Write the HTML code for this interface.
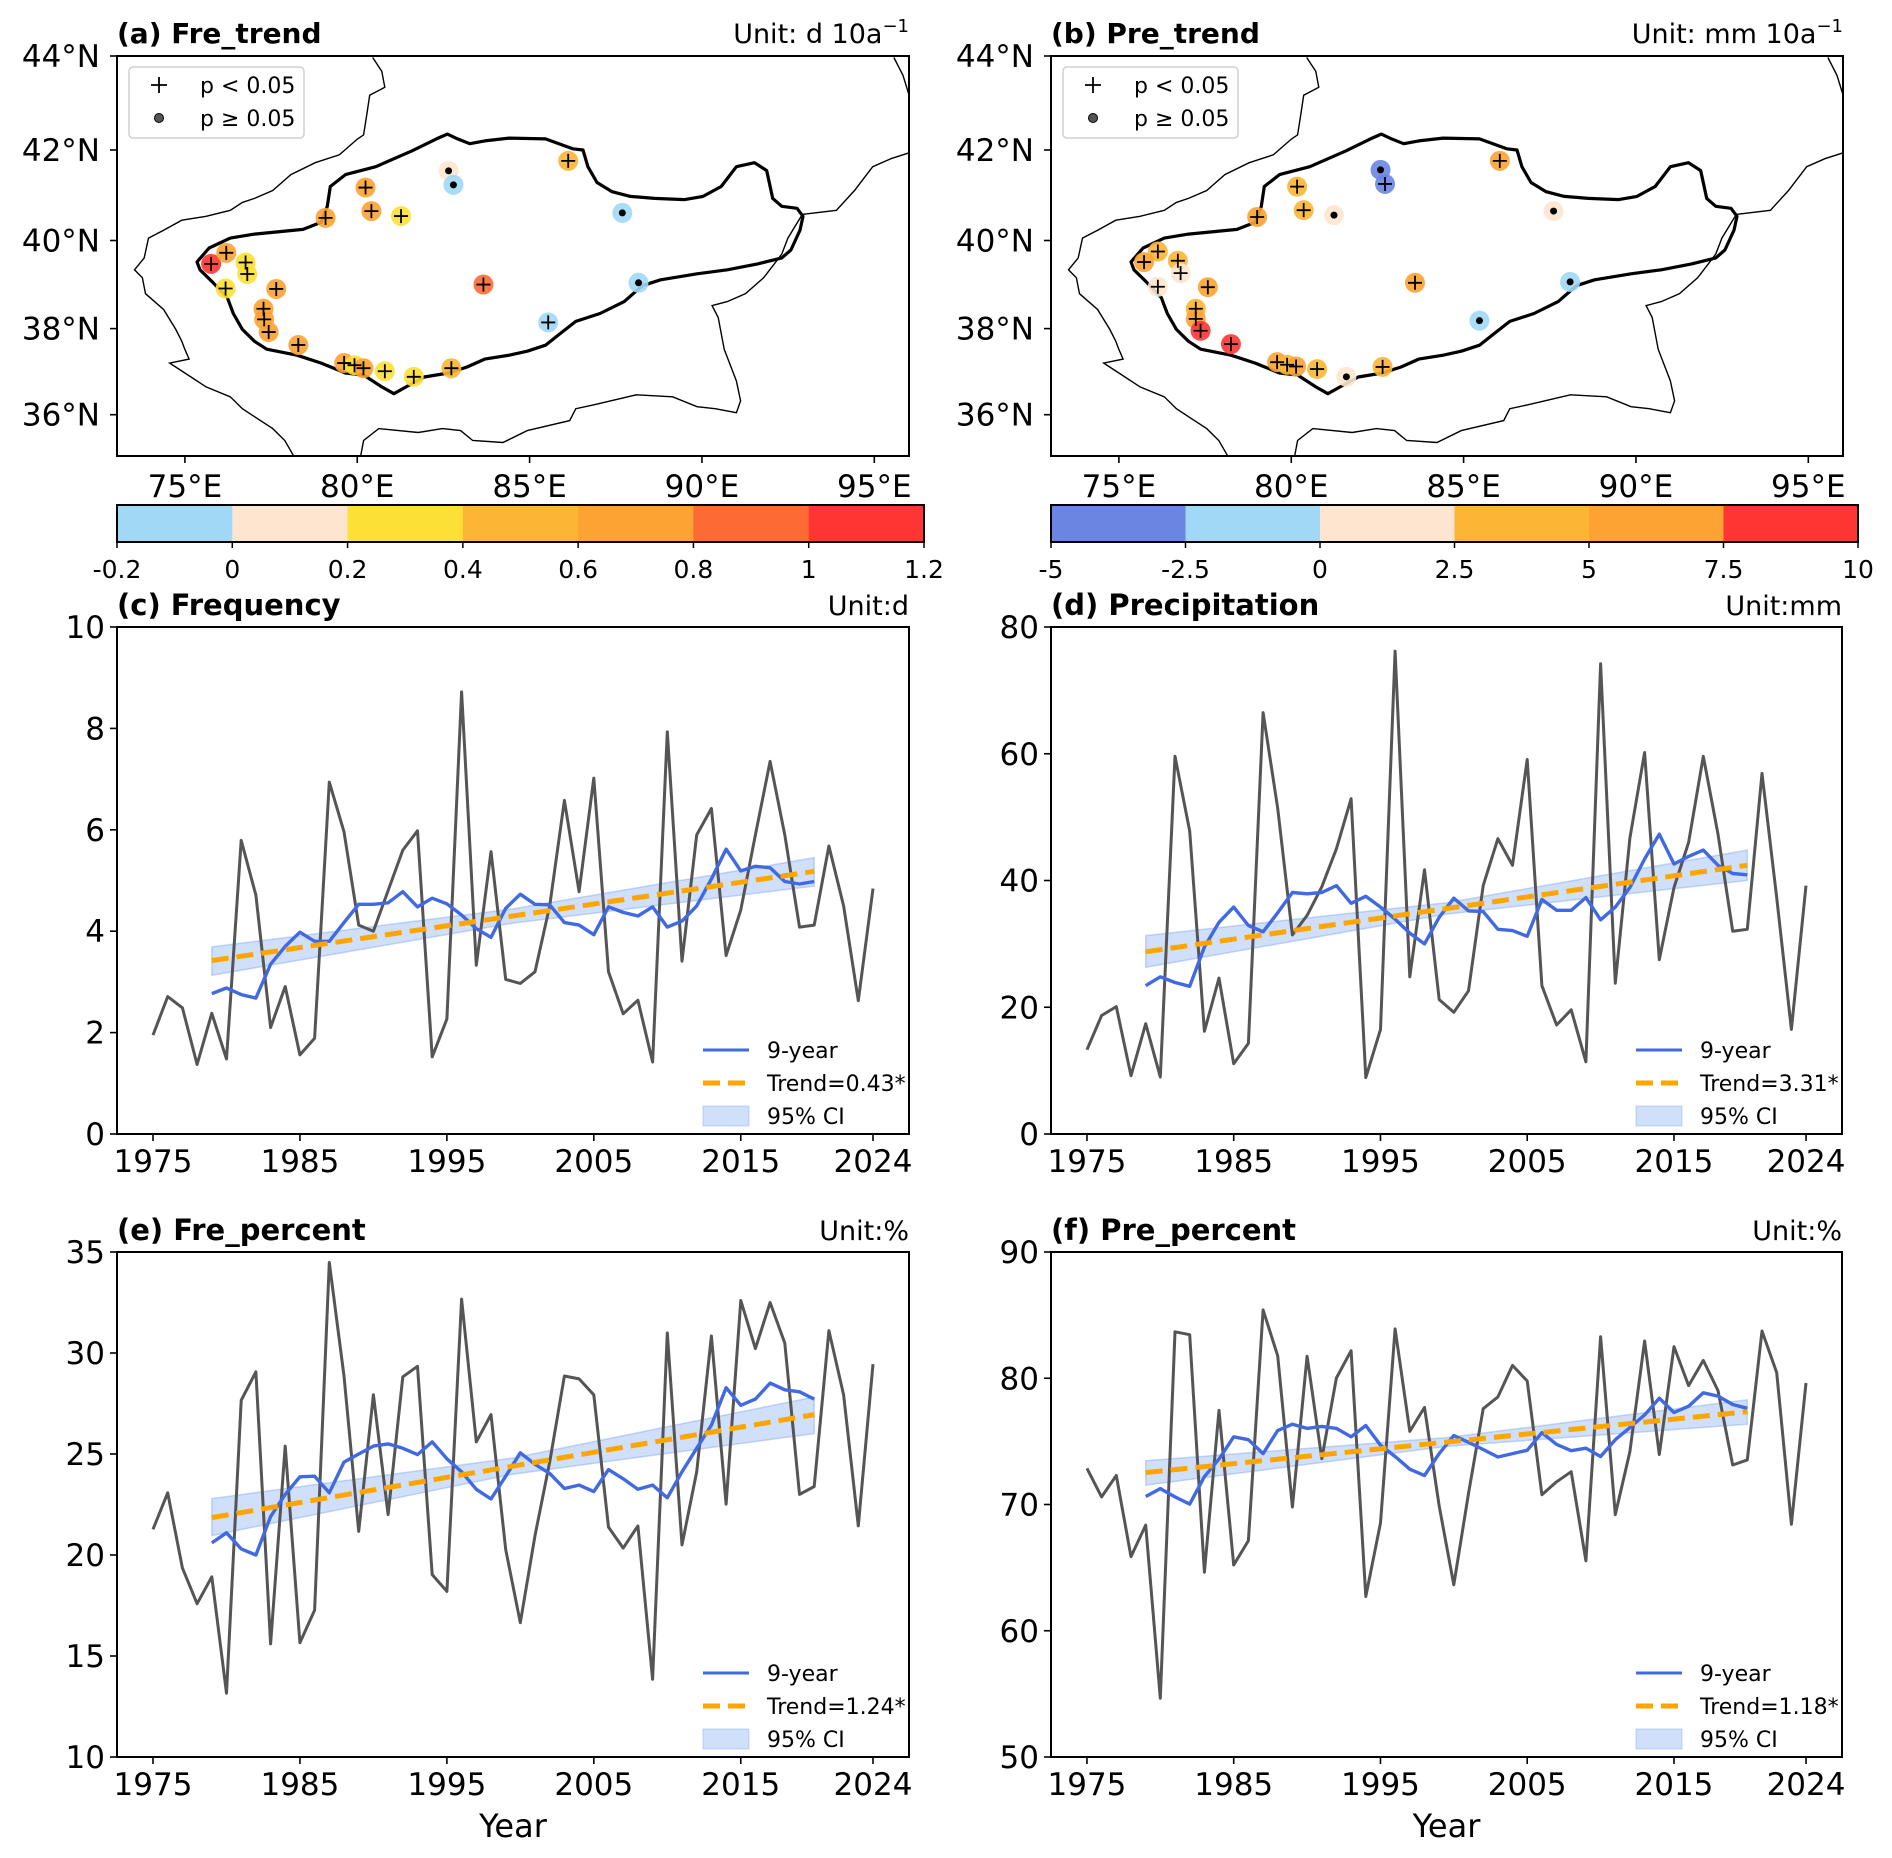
<!DOCTYPE html>
<html><head><meta charset="utf-8">
<style>
html,body{margin:0;padding:0;background:#fff;}
svg{display:block;font-family:"DejaVu Sans","Liberation Sans",sans-serif;}
</style></head>
<body>
<svg id="fig" width="1892" height="1858" viewBox="0 0 1892 1858" xmlns="http://www.w3.org/2000/svg"></svg>
<script>
// ---------------- DATA ----------------
const years = [];
for (let y = 1975; y <= 2024; y++) years.push(y);
const smoothYears = [];
for (let y = 1979; y <= 2020; y++) smoothYears.push(y);
const xTicks = [1975, 1985, 1995, 2005, 2015, 2024];

const freqVals = [1.95,2.71,2.49,1.37,2.38,1.48,5.79,4.71,2.10,2.91,1.56,1.89,6.94,5.96,4.12,4.0,4.8,5.6,5.98,1.52,2.27,8.72,3.33,5.57,3.05,2.97,3.2,4.5,6.58,4.78,7.02,3.2,2.37,2.64,1.42,7.93,3.41,5.9,6.42,3.52,4.42,5.9,7.35,5.9,4.08,4.12,5.68,4.5,2.63,4.84];
const freqSmooth = [2.77,2.88,2.75,2.68,3.35,3.7,3.98,3.8,3.8,4.17,4.53,4.53,4.56,4.78,4.48,4.65,4.54,4.32,4.05,3.88,4.45,4.73,4.53,4.52,4.17,4.12,3.93,4.48,4.37,4.3,4.48,4.08,4.2,4.5,5.03,5.62,5.19,5.28,5.25,4.98,4.93,4.98];
const freqTrend = [3.42, 5.18];
const freqCiLow = [3.13, 4.16, 4.89];
const freqCiHigh = [3.69, 4.44, 5.45];

const precVals = [13.3,18.7,20.1,9.2,17.4,9.0,59.6,47.8,16.2,24.6,11.1,14.3,66.5,51.4,31.4,34.5,39,45,52.9,8.9,16.5,76.2,24.8,41.7,21.2,19.2,22.6,39.2,46.6,42.4,59.1,23.4,17.2,19.6,11.4,74.2,23.8,46.7,60.2,27.5,38.9,46,59.6,47.3,32,32.3,56.9,37.3,16.5,39.2];
const precSmooth = [23.4,24.8,23.9,23.3,29.5,33.4,35.8,32.9,31.9,34.9,38.1,37.9,38.1,39.2,36.4,37.5,35.8,33.9,31.7,30,34.2,37.2,35.2,35.1,32.3,32.1,31.2,37,35.3,35.3,37.3,33.8,35.8,38.9,43.4,47.3,42.6,43.8,44.8,42.4,41.1,40.9];
const precTrend = [28.75, 42.4];
const precCiLow = [26.3, 34.7, 40.0];
const precCiHigh = [31.3, 36.5, 44.8];

const frePctVals = [21.27,23.08,19.36,17.59,18.92,13.16,27.66,29.07,15.6,25.39,15.66,17.26,34.48,28.86,21.17,27.93,22.0,28.82,29.34,19.03,18.2,32.67,25.6,26.95,20.27,16.65,20.96,24.6,28.86,28.72,27.93,21.38,20.34,21.44,13.85,30.99,20.5,24.12,30.84,22.52,32.6,30.22,32.5,30.49,23.0,23.39,31.11,27.93,21.44,29.45];
const frePctSmooth = [20.6,21.1,20.3,20.0,21.9,23.0,23.87,23.9,23.08,24.6,25.0,25.39,25.5,25.28,24.97,25.6,24.76,24.12,23.25,22.77,23.9,25.06,24.49,24.04,23.29,23.46,23.14,24.23,23.77,23.25,23.46,22.83,24.12,25.28,26.43,28.28,27.41,27.72,28.51,28.18,28.08,27.72];
const frePctTrend = [21.85, 26.95];
const frePctCiLow = [20.96, 24.0, 26.01];
const frePctCiHigh = [22.79, 24.8, 27.82];

const prePctVals = [72.86,70.6,72.3,65.87,68.37,54.66,83.68,83.45,64.64,77.45,65.21,67.14,85.41,81.78,69.8,81.75,73.63,80.02,82.18,62.71,68.54,83.91,75.79,77.69,69.87,63.64,70.87,77.59,78.52,81.02,79.78,70.77,71.8,72.6,65.54,83.28,69.2,74.19,82.95,73.96,82.51,79.42,81.41,79.02,73.13,73.53,83.74,80.45,68.44,79.62];
const prePctSmooth = [70.63,71.26,70.6,70.03,72.2,73.6,75.36,75.13,74.03,75.86,76.36,76.03,76.19,76.03,75.36,76.26,74.7,73.8,72.8,72.3,74.03,75.46,74.93,74.36,73.76,74.03,74.29,75.69,74.76,74.26,74.46,73.8,75.13,76.09,77.09,78.42,77.29,77.79,78.85,78.59,77.92,77.62];
const prePctTrend = [72.53, 77.35];
const prePctCiLow = [71.53, 74.6, 76.36];
const prePctCiHigh = [73.46, 75.3, 78.29];

// stations map (a)
const staALon = [75.76,76.2,76.76,76.81,76.18,77.65,77.28,77.3,77.43,78.29,79.08,80.24,80.41,81.27,82.65,82.79,86.12,87.69,88.16,83.66,85.54,79.62,79.92,80.18,80.8,81.64,82.73];
const staALat = [39.47,39.72,39.5,39.24,38.91,38.9,38.45,38.21,37.92,37.62,40.5,41.17,40.65,40.54,41.54,41.23,41.76,40.61,39.04,39.0,38.14,37.2,37.15,37.08,37.01,36.88,37.08];
const staAVal = [1.1,0.7,0.3,0.3,0.3,0.7,0.7,0.7,0.7,0.7,0.7,0.7,0.7,0.3,0.1,-0.1,0.5,-0.1,-0.1,0.9,-0.1,0.7,0.3,0.7,0.3,0.3,0.5];
const staASig = [1,1,1,1,1,1,1,1,1,1,1,1,1,1,0,0,1,0,0,1,1,1,1,1,1,1,1];
const levelsA = [-0.2,0,0.2,0.4,0.6,0.8,1,1.2];
const colorsA = ["#a0d8f6","#fde5cf","#fde035","#fcb534","#fca333","#fd6a33","#fe3533"];

// stations map (b)
const staBLon = [82.59,82.72,86.05,80.17,80.36,81.24,79.01,87.61,76.13,75.73,76.71,76.79,76.13,77.58,83.59,88.09,85.46,77.23,77.23,77.37,78.25,79.59,79.88,80.14,80.75,81.6,82.65];
const staBLat = [41.56,41.25,41.76,41.19,40.67,40.56,40.52,40.65,39.75,39.51,39.54,39.26,38.95,38.94,39.04,39.06,38.18,38.45,38.22,37.95,37.64,37.22,37.16,37.12,37.06,36.88,37.11];
const staBVal = [-3.75,-3.75,6.25,3.75,3.75,1.25,6.25,1.25,3.75,6.25,3.75,1.25,1.25,6.25,6.25,-1.25,-1.25,3.75,6.25,8.75,8.75,6.25,3.75,6.25,3.75,1.25,3.75];
const staBSig = [0,1,1,1,1,0,1,0,1,1,1,1,1,1,1,0,0,1,1,1,1,1,1,1,1,0,1];
const levelsB = [-5,-2.5,0,2.5,5,7.5,10];
const colorsB = ["#6a86e2","#a0d8f6","#fde5cf","#fcb534","#fca333","#fe3533"];
const levelLabelsB = ["-5","-2.5","0","2.5","5","7.5","10"];

// ---------------- HELPERS ----------------
const NS = "http://www.w3.org/2000/svg";
const svg = document.getElementById("fig");
function el(tag, attrs, parent) {
  const e = document.createElementNS(NS, tag);
  for (const k in attrs) e.setAttribute(k, attrs[k]);
  (parent || svg).appendChild(e);
  return e;
}
function txt(str, attrs, parent) {
  const t = el("text", attrs, parent);
  t.textContent = str;
  return t;
}

// ---------------- CHARTS ----------------
const XMIN = 1972.55, XMAX = 2026.45;
function drawChart(cfg) {
  const g = el("g", {});
  
  
  const L = cfg.x, T = cfg.y, W = cfg.w, H = cfg.h;
  const sx = v => L + (v - XMIN) / (XMAX - XMIN) * W;
  const sy = v => T + H - (v - cfg.ymin) / (cfg.ymax - cfg.ymin) * H;
  const defs = el("defs", {}, g);
  const cp = el("clipPath", {id: cfg.name + "-clip"}, defs);
  el("rect", {x: L, y: T, width: W, height: H}, cp);
  const plot = el("g", {"clip-path": "url(#" + cfg.name + "-clip)"}, g);

  const ciX = [smoothYears[0], (smoothYears[0] + smoothYears[smoothYears.length-1]) / 2, smoothYears[smoothYears.length-1]];
  let d = "";
  for (let i = 0; i < 3; i++) d += (i ? "L" : "M") + sx(ciX[i]).toFixed(1) + "," + sy(cfg.ciHigh[i]).toFixed(1);
  for (let i = 2; i >= 0; i--) d += "L" + sx(ciX[i]).toFixed(1) + "," + sy(cfg.ciLow[i]).toFixed(1);
  const band = el("path", {d: d + "Z", fill: "#6495ed", "fill-opacity": "0.3", stroke: "#6495ed", "stroke-opacity": "0.35", "stroke-width": "1.5"}, plot);
  
  

  const raw = el("polyline", {points: cfg.vals.map((v, i) => sx(years[i]).toFixed(1) + "," + sy(v).toFixed(1)).join(" "), fill: "none", stroke: "#555555", "stroke-width": "3", "stroke-linejoin": "round"}, plot);
  
  

  const sm = el("polyline", {points: cfg.smooth.map((v, i) => sx(smoothYears[i]).toFixed(1) + "," + sy(v).toFixed(1)).join(" "), fill: "none", stroke: "#4169e1", "stroke-width": "3.4", "stroke-linejoin": "round"}, plot);
  
  

  const tr = el("line", {x1: sx(smoothYears[0]), y1: sy(cfg.trend[0]), x2: sx(smoothYears[smoothYears.length-1]), y2: sy(cfg.trend[1]), stroke: "#ffa500", "stroke-width": "5", "stroke-dasharray": "17,8"}, plot);
  
  

  el("rect", {x: L, y: T, width: W, height: H, fill: "none", stroke: "#000", "stroke-width": "2"}, g);

  cfg.yticks.forEach(v => {
    const y = sy(v);
    el("line", {x1: L - 7, y1: y, x2: L, y2: y, stroke: "#000", "stroke-width": "1.6"}, g);
    const t = txt(String(v), {x: L - 12, y: y + 11, "text-anchor": "end", "font-size": "31"}, g);
    
    
  });
  xTicks.forEach(v => {
    const x = sx(v);
    el("line", {x1: x, y1: T + H, x2: x, y2: T + H + 7, stroke: "#000", "stroke-width": "1.6"}, g);
    const t = txt(String(v), {x: x, y: T + H + 38, "text-anchor": "middle", "font-size": "31"}, g);
    
    
  });
  if (cfg.xlabel) {
    const xl = txt("Year", {x: L + W / 2, y: T + H + 80, "text-anchor": "middle", "font-size": "32"}, g);
    
    
  }
  const ti = txt(cfg.title, {x: L, y: T - 12, "font-size": "29", "font-weight": "bold"}, g);
  
  
  const un = txt(cfg.unit, {x: L + W, y: T - 12, "text-anchor": "end", "font-size": "27"}, g);
  
  

  const lg = el("g", {}, g);
  
  
  const R = L + W, B = T + H;
  el("line", {x1: R - 206, y1: B - 84, x2: R - 160, y2: B - 84, stroke: "#4169e1", "stroke-width": "3"}, lg);
  txt("9-year", {x: R - 142, y: B - 76, "font-size": "22"}, lg);
  el("line", {x1: R - 206, y1: B - 51, x2: R - 160, y2: B - 51, stroke: "#ffa500", "stroke-width": "5", "stroke-dasharray": "17,8"}, lg);
  txt(cfg.trendLabel, {x: R - 142, y: B - 43, "font-size": "22"}, lg);
  el("rect", {x: R - 206, y: B - 28, width: 46, height: 20, fill: "#6495ed", "fill-opacity": "0.3", stroke: "#6495ed", "stroke-opacity": "0.35"}, lg);
  txt("95% CI", {x: R - 142, y: B - 10, "font-size": "22"}, lg);
}

drawChart({name: "panel-c-frequency", x: 117, y: 627, w: 792, h: 507, ymin: 0, ymax: 10, yticks: [0,2,4,6,8,10], vals: freqVals, smooth: freqSmooth, trend: freqTrend, ciLow: freqCiLow, ciHigh: freqCiHigh, title: "(c) Frequency", unit: "Unit:d", trendLabel: "Trend=0.43*"});
drawChart({name: "panel-d-precipitation", x: 1051, y: 627, w: 791, h: 507, ymin: 0, ymax: 80, yticks: [0,20,40,60,80], vals: precVals, smooth: precSmooth, trend: precTrend, ciLow: precCiLow, ciHigh: precCiHigh, title: "(d) Precipitation", unit: "Unit:mm", trendLabel: "Trend=3.31*"});
drawChart({name: "panel-e-fre-percent", x: 117, y: 1252, w: 792, h: 505, ymin: 10, ymax: 35, yticks: [10,15,20,25,30,35], vals: frePctVals, smooth: frePctSmooth, trend: frePctTrend, ciLow: frePctCiLow, ciHigh: frePctCiHigh, title: "(e) Fre_percent", unit: "Unit:%", trendLabel: "Trend=1.24*", xlabel: true});
drawChart({name: "panel-f-pre-percent", x: 1051, y: 1252, w: 791, h: 505, ymin: 50, ymax: 90, yticks: [50,60,70,80,90], vals: prePctVals, smooth: prePctSmooth, trend: prePctTrend, ciLow: prePctCiLow, ciHigh: prePctCiHigh, title: "(f) Pre_percent", unit: "Unit:%", trendLabel: "Trend=1.18*", xlabel: true});

// ---------------- MAPS ----------------
const basinZ = [[325,660],[345,625],[380,600],[420,590],[500,578],[530,560],[540,520],[545,470],[570,440],[620,420],[680,380],[720,350],[738,338],[755,350],[775,362],[800,355],[840,348],[900,350],[945,375],[962,378],[970,420],[985,460],[1010,483],[1040,495],[1080,500],[1130,503],[1160,495],[1190,470],[1215,420],[1245,410],[1265,430],[1275,500],[1290,520],[1315,525],[1325,545],[1320,580],[1305,630],[1290,650],[1250,665],[1200,680],[1150,690],[1090,705],[1060,720],[1030,760],[990,790],[950,810],[925,840],[900,870],[870,885],[840,895],[800,905],[770,925],[740,940],[700,950],[670,975],[650,992],[630,975],[600,945],[570,940],[530,915],[490,895],[440,880],[420,860],[400,830],[385,790],[375,750],[350,710],[330,680]];
const borderWZ = [[615,145],[630,180],[635,220],[610,240],[605,290],[600,340],[590,350],[560,390],[520,410],[480,440],[450,480],[420,500],[400,510],[380,530],[340,545],[300,555],[270,580],[245,600],[238,650],[222,680],[235,700],[240,740],[270,780],[290,830],[300,860],[305,880],[312,905],[280,915],[300,935],[340,975],[380,1000],[400,1030],[420,1050],[450,1080],[470,1110],[485,1150]];
const borderSZ = [[595,1150],[600,1110],[625,1080],[690,1090],[730,1080],[760,1085],[780,1110],[830,1115],[870,1085],[940,1060],[950,1030],[980,1020],[1050,995],[1110,1000],[1150,1025],[1180,1030],[1215,1040],[1222,1010],[1215,960],[1205,920],[1195,880],[1185,800],[1175,770],[1200,760],[1230,740],[1260,700],[1280,660],[1290,640],[1300,600],[1322,545]];
const borderEZ = [[1325,540],[1380,530],[1410,480],[1440,420],[1470,400],[1500,385]];
const borderNEZ = [[1475,145],[1490,190],[1500,240]];

const latTicks = [44, 42, 40, 38, 36];
const latPix = [56, 150, 240.5, 328.6, 414.7];
const lonTicks = [75, 80, 85, 90, 95];

function drawMap(cfg) {
  const g = el("g", {});
  
  
  const OX = cfg.ox, L = OX + 117, T = 56, W = 792, H = 400;
  const lonX = lon => L + (lon - 73.03) * 34.47;
  const latY = lat => {
    if (lat >= 44) return latPix[0] - (lat - 44) * 47;
    for (let i = 0; i < 4; i++) {
      if (lat <= latTicks[i] && lat >= latTicks[i+1]) {
        return latPix[i] + (latTicks[i] - lat) / 2 * (latPix[i+1] - latPix[i]);
      }
    }
    return latPix[4] + (36 - lat) * 43;
  };
  const zp = pts => pts.map(p => (p[0] / 1.65 + OX).toFixed(1) + "," + (p[1] / 2.52).toFixed(1)).join(" ");
  const defs = el("defs", {}, g);
  const cp = el("clipPath", {id: cfg.name + "-clip"}, defs);
  el("rect", {x: L, y: T, width: W, height: H}, cp);
  const plot = el("g", {"clip-path": "url(#" + cfg.name + "-clip)"}, g);
  [borderWZ, borderSZ, borderEZ, borderNEZ].forEach(b => {
    const pl = el("polyline", {points: zp(b), fill: "none", stroke: "#000", "stroke-width": "1.4"}, plot);
    
    
  });
  const basin = el("polygon", {points: zp(basinZ), fill: "none", stroke: "#000", "stroke-width": "3.2", "stroke-linejoin": "round"}, plot);
  
  

  const colorFor = v => {
    for (let i = 0; i < cfg.colors.length; i++) if (v >= cfg.levels[i] && v < cfg.levels[i+1]) return cfg.colors[i];
    return cfg.colors[cfg.colors.length - 1];
  };
  cfg.lon.forEach((lon, i) => {
    const cx = lonX(lon), cy = latY(cfg.lat[i]);
    const c = el("circle", {cx: cx, cy: cy, r: 10, fill: colorFor(cfg.val[i]), "fill-opacity": "0.9"}, plot);
    
    
  });
  cfg.lon.forEach((lon, i) => {
    const cx = lonX(lon), cy = latY(cfg.lat[i]);
    if (cfg.sig[i]) {
      el("path", {d: `M${cx-7},${cy}H${cx+7}M${cx},${cy-7}V${cy+7}`, stroke: "#000", "stroke-width": "1.8"}, plot);
    } else {
      el("circle", {cx: cx, cy: cy, r: 3.5, fill: "#000"}, plot);
    }
  });
  el("rect", {x: L, y: T, width: W, height: H, fill: "none", stroke: "#000", "stroke-width": "2"}, g);
  latTicks.forEach(lat => {
    const y = latY(lat);
    el("line", {x1: L - 7, y1: y, x2: L, y2: y, stroke: "#000", "stroke-width": "1.6"}, g);
    const t = txt(lat + "°N", {x: L - 17, y: y + 11, "text-anchor": "end", "font-size": "31"}, g);
    
    
  });
  lonTicks.forEach(lon => {
    const x = lonX(lon);
    el("line", {x1: x, y1: T + H, x2: x, y2: T + H + 7, stroke: "#000", "stroke-width": "1.6"}, g);
    const t = txt(lon + "°E", {x: x, y: T + H + 41, "text-anchor": "middle", "font-size": "31"}, g);
    
    
  });
  const lg = el("g", {}, g);
  
  
  el("rect", {x: L + 12, y: T + 11, width: 175, height: 71, rx: 4, fill: "#fff", "fill-opacity": "0.85", stroke: "#d0d0d0", "stroke-width": "1.5"}, lg);
  el("path", {d: `M${L+34},${T+29}H${L+50}M${L+42},${T+21}V${T+37}`, stroke: "#000", "stroke-width": "1.8"}, lg);
  txt("p < 0.05", {x: L + 83, y: T + 37, "font-size": "22"}, lg);
  el("circle", {cx: L + 42, cy: T + 62, r: 4.5, fill: "#555", stroke: "#000", "stroke-width": "1"}, lg);
  txt("p ≥ 0.05", {x: L + 83, y: T + 70, "font-size": "22"}, lg);
  const ti = txt(cfg.title, {x: L, y: 43, "font-size": "28", "font-weight": "bold"}, g);
  
  
  const un = txt("", {x: L + W, y: 43, "text-anchor": "end", "font-size": "27"}, g);
  un.textContent = cfg.unit;
  const sup = el("tspan", {"font-size": "18", dy: "-11"}, un);
  sup.textContent = "−1";
  
  

  const cb = el("g", {}, g);
  
  
  const CL = OX + 117, CW = 807, CT = 505, CH = 37;
  const n = cfg.colors.length;
  cfg.colors.forEach((c, i) => {
    el("rect", {x: CL + i * CW / n, y: CT, width: CW / n + 0.5, height: CH, fill: c}, cb);
  });
  el("rect", {x: CL, y: CT, width: CW, height: CH, fill: "none", stroke: "#000", "stroke-width": "2"}, cb);
  cfg.levelLabels.forEach((lab, i) => {
    const x = CL + i * CW / n;
    el("line", {x1: x, y1: CT + CH, x2: x, y2: CT + CH + 6, stroke: "#000", "stroke-width": "1.5"}, cb);
    const t = txt(lab, {x: x, y: CT + CH + 36, "text-anchor": "middle", "font-size": "25"}, cb);
    
    
  });
}

drawMap({name: "panel-a-fre-trend-map", ox: 0, lon: staALon, lat: staALat, val: staAVal, sig: staASig, levels: levelsA, colors: colorsA, levelLabels: ["-0.2","0","0.2","0.4","0.6","0.8","1","1.2"], title: "(a) Fre_trend", unit: "Unit: d 10a"});
drawMap({name: "panel-b-pre-trend-map", ox: 934, lon: staBLon, lat: staBLat, val: staBVal, sig: staBSig, levels: levelsB, colors: colorsB, levelLabels: levelLabelsB, title: "(b) Pre_trend", unit: "Unit: mm 10a"});
</script>
</body></html>
